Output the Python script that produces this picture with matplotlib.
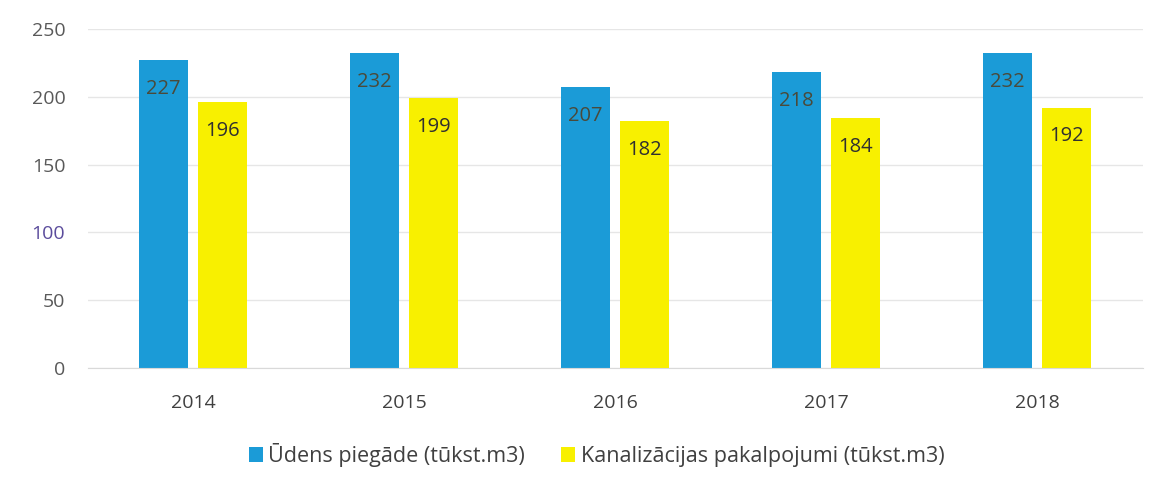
import matplotlib
matplotlib.use("Agg")
import matplotlib.pyplot as plt
from matplotlib.patches import Patch
import numpy as np

years = ["2014", "2015", "2016", "2017", "2018"]
water = [227, 232, 207, 218, 232]
sewer = [196, 199, 182, 184, 192]
series_names = ["Ūdens piegāde (tūkst.m3)", "Kanalizācijas pakalpojumi (tūkst.m3)"]
yticks = [0, 50, 100, 150, 200, 250]

blue = "#1b9bd7"
yellow = "#f8f000"
text_col = "#595959"

plt.rcParams['font.family'] = ['Open Sans', 'DejaVu Sans']

fig = plt.figure(figsize=(11.56, 4.90), dpi=100)
ax = fig.add_axes([87.5/1156, 122/490, 1055/1156, 339/490])

x = np.arange(len(years))
w = 0.23
off = 0.14
ax.bar(x - off, water, width=w, color=blue, zorder=2)
ax.bar(x + off, sewer, width=w, color=yellow, zorder=2)

for xi, v in zip(x, water):
    ax.text(xi - off, v - 21, str(v), ha='center', va='center', fontsize=14.5, color="#4a4a3a", zorder=3)
for xi, v in zip(x, sewer):
    ax.text(xi + off, v - 21, str(v), ha='center', va='center', fontsize=14.5, color="#303030", zorder=3)

ax.set_xlim(-0.5, len(years) - 0.5)
ax.set_ylim(0, 250)
ax.set_yticks(yticks)
ax.set_yticklabels([str(t) for t in yticks])
ax.set_xticks(x)
ax.set_xticklabels(years)
ax.tick_params(axis='y', length=0, pad=16, labelsize=14, labelcolor=text_col)
ax.tick_params(axis='x', length=0, pad=19, labelsize=14, labelcolor="#404040")
for lbl in ax.get_yticklabels():
    if lbl.get_text() == "100":
        lbl.set_color("#5b4c9c")
ax.grid(axis='y', color="#e6e6e6", linewidth=1, zorder=0)
for s in ["top", "right", "left"]:
    ax.spines[s].set_visible(False)
ax.spines["bottom"].set_color("#d9d9d9")

handles = [Patch(facecolor=blue), Patch(facecolor=yellow)]
fig.legend(handles, series_names, loc='center', bbox_to_anchor=(0.516, 0.071), ncol=2,
           frameon=False, fontsize=15.5, handlelength=0.65, handleheight=0.65,
           handletextpad=0.25, columnspacing=1.7, labelcolor="#404040")

fig.savefig("out.png", dpi=100, facecolor="white")
